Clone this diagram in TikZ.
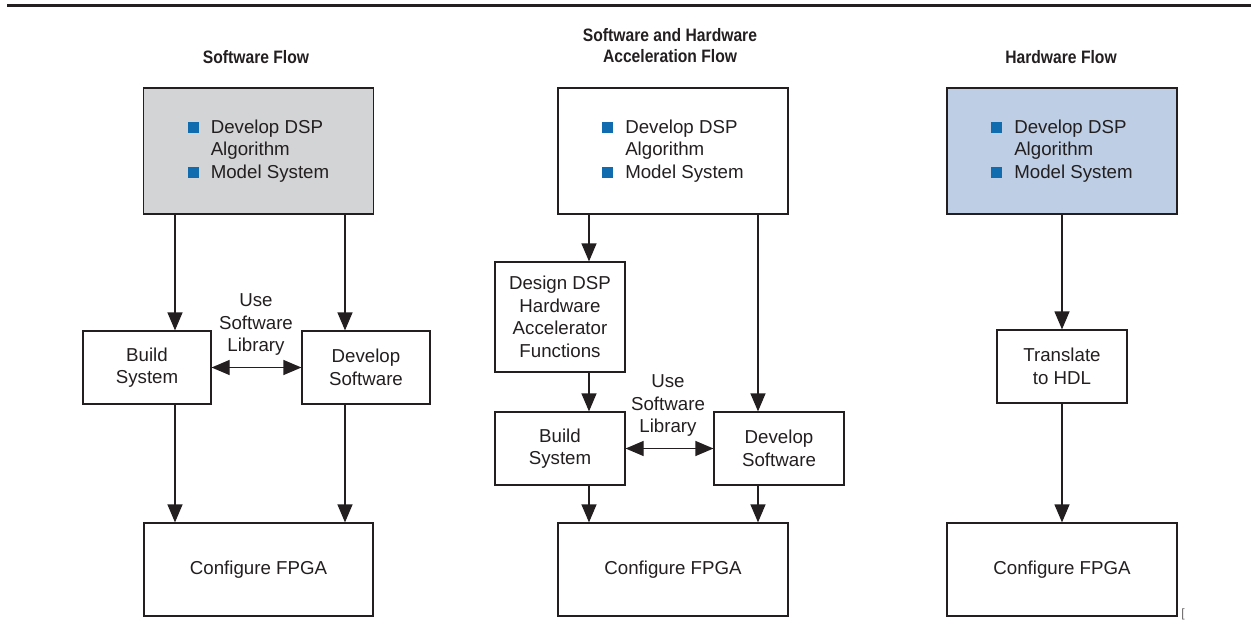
\documentclass[tikz,border=0pt]{standalone}
\usepackage{fontspec}
\setmainfont{Liberation Sans}
\newfontfamily\headfont[FakeStretch=0.87]{Liberation Sans}
\usetikzlibrary{arrows.meta}

\definecolor{inkgray}{RGB}{35,31,32}
\definecolor{boxgray}{RGB}{211,212,214}
\definecolor{boxblue}{RGB}{190,206,228}
\definecolor{bulblue}{RGB}{16,108,175}

\newcommand{\bulsq}{\textcolor{bulblue}{\rule{11pt}{11pt}}}
\newcommand{\dspitems}{\begin{tabular}{@{}l@{\hspace{12pt}}l@{}}\bulsq & Develop DSP\\ & Algorithm\\ \bulsq & Model System\end{tabular}}

\tikzset{every picture/.style={line width=1.2pt}}
\tikzset{
  flowbox/.style={draw=inkgray, fill=white, text=inkgray, align=center, inner sep=0pt, font=\fontsize{18.7}{22.5}\selectfont},
  smallbox/.style={flowbox, minimum width=129pt, minimum height=73pt},
  bigbox/.style={flowbox, minimum width=230pt, minimum height=126pt},
  cfgbox/.style={flowbox, minimum width=230pt, minimum height=93pt},
  heading/.style={text=inkgray, align=center, font=\headfont\bfseries\fontsize{18}{21}\selectfont},
  liblabel/.style={text=inkgray, align=center, font=\fontsize{18.7}{22.5}\selectfont},
  >={Triangle[length=18pt,width=15pt]},
  flowarrow/.style={draw=inkgray, ->},
  libarrow/.style={draw=inkgray, <->},
}

\begin{document}
\begin{tikzpicture}[x=1pt,y=1pt,yscale=-1]
\useasboundingbox (0,0) rectangle (1258,629);

%Top rule
\draw [line width=3pt, inkgray] (7,5.7) -- (1251,5.7) ;

% Headings
\node [heading] (swhead) at (256,57) {Software Flow};
\node [heading] (hahead) at (670,46) {Software and Hardware\\Acceleration Flow};
\node [heading] (hwhead) at (1061,57) {Hardware Flow};

%Software flow
\node [bigbox, fill=boxgray] (swtop) at (258.5,151) {\dspitems};
\node [smallbox, minimum width=128pt] (swbuild) at (147,367.5) {Build\\System};
\node [smallbox, minimum width=128pt] (swdev) at (366,367.5) {Develop\\Software};
\node [cfgbox, minimum width=229pt] (swcfg) at (258.5,569.5) {Configure FPGA};
\node [liblabel] (swlib) at (256,325) {Use\\Software\\Library};
\coordinate (swl) at (175,0);
\coordinate (swr) at (345,0);
\draw [flowarrow] (swtop.south -| swl) -- (swbuild.north -| swl) ;
\draw [flowarrow] (swtop.south -| swr) -- (swdev.north -| swr) ;
\draw [libarrow] (swbuild.east) -- (swdev.west) ;
\draw [flowarrow] (swbuild.south -| swl) -- (swcfg.north -| swl) ;
\draw [flowarrow] (swdev.south -| swr) -- (swcfg.north -| swr) ;

%Software and hardware acceleration flow
\node [bigbox] (hatop) at (673,151) {\dspitems};
\node [smallbox, minimum width=130pt, minimum height=110pt] (hadsp) at (560,317) {Design DSP\\Hardware\\Accelerator\\Functions};
\node [smallbox, minimum width=130pt] (habuild) at (560,448.5) {Build\\System};
\node [smallbox, minimum width=130pt] (hadev) at (779,448.5) {Develop\\Software};
\node [cfgbox] (hacfg) at (673,569.5) {Configure FPGA};
\node [liblabel] (halib) at (668,406) {Use\\Software\\Library};
\coordinate (hal) at (589,0);
\coordinate (har) at (758,0);
\draw [flowarrow] (hatop.south -| hal) -- (hadsp.north -| hal) ;
\draw [flowarrow] (hadsp.south -| hal) -- (habuild.north -| hal) ;
\draw [flowarrow] (hatop.south -| har) -- (hadev.north -| har) ;
\draw [libarrow] (habuild.east) -- (hadev.west) ;
\draw [flowarrow] (habuild.south -| hal) -- (hacfg.north -| hal) ;
\draw [flowarrow] (hadev.south -| har) -- (hacfg.north -| har) ;

%Hardware flow
\node [bigbox, fill=boxblue] (hwtop) at (1062,151) {\dspitems};
\node [smallbox, minimum width=130pt] (hwhdl) at (1062,366.5) {Translate\\to HDL};
\node [cfgbox] (hwcfg) at (1062,569.5) {Configure FPGA};
\draw [flowarrow] (hwtop) -- (hwhdl) ;
\draw [flowarrow] (hwhdl) -- (hwcfg) ;

% Text Node
\node [text=inkgray!70, font=\fontsize{12}{12}\selectfont, inner sep=0pt] (mark) at (1183,614) {[};

\end{tikzpicture}
\end{document}
